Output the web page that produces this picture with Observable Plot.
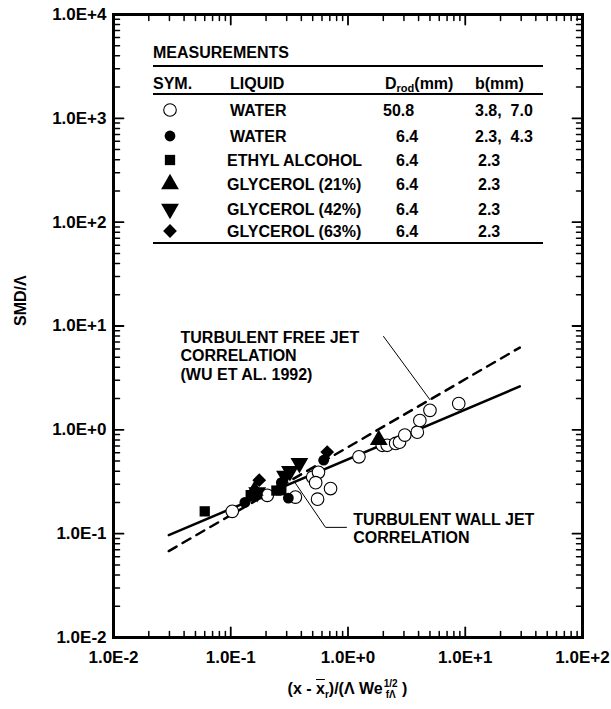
<!DOCTYPE html>
<html>
<head>
<meta charset="utf-8">
<script src="https://cdn.jsdelivr.net/npm/d3@7"></script>
<script src="https://cdn.jsdelivr.net/npm/@observablehq/plot@0.6"></script>
<style>
  html, body { margin: 0; padding: 0; background: white; }
  #figure { position: relative; width: 611px; height: 709px; font-family: "Liberation Sans", Arial, Helvetica, sans-serif; font-weight: bold; color: black; }
  #xtitle { position: absolute; width: 700px; text-align: center; top: 679px; font-size: 16px; white-space: nowrap; }
  #xtitle .bar { text-decoration: overline; }
  #xtitle sub { font-size: 10px; }
  #xtitle .ss { display: inline-flex; flex-direction: column; vertical-align: middle; font-size: 10px; line-height: 11px; margin-left: 1px; position: relative; top: -1px; }
</style>
</head>
<body>
<div id="figure"></div>
<script>
// Tick positions and labels
const xMajorTicks = [0.01, 0.1, 1, 10, 100];
const xTickLabels = ["1.0E-2", "1.0E-1", "1.0E+0", "1.0E+1", "1.0E+2"];
const yMajorTicks = [0.01, 0.1, 1, 10, 100, 1000, 10000];
const yTickLabels = ["1.0E-2", "1.0E-1", "1.0E+0", "1.0E+1", "1.0E+2", "1.0E+3", "1.0E+4"];

// Measurements: water, D_rod = 50.8 mm (open circles)
const water508X = [0.103, 0.205, 0.356, 0.50, 0.56, 0.53, 0.55, 0.71, 1.24, 1.96, 2.16, 2.55, 2.75, 3.05, 3.9, 4.1, 5.0, 8.8];
const water508Y = [0.164, 0.234, 0.225, 0.35, 0.39, 0.31, 0.215, 0.272, 0.55, 0.71, 0.71, 0.74, 0.76, 0.89, 0.95, 1.23, 1.54, 1.79];
// water, D_rod = 6.4 mm (filled circles)
const water64X = [0.132, 0.155, 0.31, 0.27, 0.62];
const water64Y = [0.20, 0.23, 0.22, 0.31, 0.51];
// ethyl alcohol (filled squares)
const ethylX = [0.060, 0.148, 0.168, 0.245, 0.27];
const ethylY = [0.164, 0.235, 0.24, 0.26, 0.262];
// glycerol 21% (up triangles)
const gly21X = [0.16, 1.83];
const gly21Y = [0.26, 0.80];
// glycerol 42% (down triangles)
const gly42X = [0.168, 0.29, 0.32, 0.385];
const gly42Y = [0.25, 0.36, 0.40, 0.477];
// glycerol 63% (diamonds)
const gly63X = [0.175, 0.665];
const gly63Y = [0.327, 0.61];

// Correlation lines (end points)
const wallJetX = [0.0296, 29.2];
const wallJetY = [0.0968, 2.62];
const freeJetX = [0.0296, 29.2];
const freeJetY = [0.068, 6.2];

// Table rows
const legendLiquids = ["WATER", "WATER", "ETHYL ALCOHOL", "GLYCEROL (21%)", "GLYCEROL (42%)", "GLYCEROL (63%)"];
const legendRod = ["50.8", "6.4", "6.4", "6.4", "6.4", "6.4"];
const legendSlot = ["3.8,  7.0", "2.3,  4.3", "2.3", "2.3", "2.3", "2.3"];

const FONT = "'Liberation Sans', Arial, Helvetica, sans-serif";

const series = [
  {xs: water508X, ys: water508Y, symbol: "circle", fill: "white", stroke: "black", r: 6.3, rotate: 0},
  {xs: water64X, ys: water64Y, symbol: "circle", fill: "black", stroke: "none", r: 5.4, rotate: 0},
  {xs: ethylX, ys: ethylY, symbol: "square", fill: "black", stroke: "none", r: 5.8, rotate: 0},
  {xs: gly21X, ys: gly21Y, symbol: "triangle", fill: "black", stroke: "none", r: 6.6, rotate: 0},
  {xs: gly42X, ys: gly42Y, symbol: "triangle", fill: "black", stroke: "none", r: 6.6, rotate: 180},
  {xs: gly63X, ys: gly63Y, symbol: "diamond2", fill: "black", stroke: "none", r: 6.2, rotate: 0}
];
const d3Symbols = {circle: d3.symbolCircle, square: d3.symbolSquare, triangle: d3.symbolTriangle, diamond2: d3.symbolDiamond2};

// minor ticks 2..9 within each decade
function minorTicks(lo, hi) {
  const out = [];
  for (let e = lo; e < hi; ++e) for (let k = 2; k <= 9; ++k) out.push(k * Math.pow(10, e));
  return out;
}
const xMinorTicks = minorTicks(-2, 2);
const yMinorTicks = minorTicks(-2, 4);

const tickShape = {draw(context, l) { context.moveTo(0, 0); context.lineTo(0, -l); }};

function ticks(values, channel, frameAnchor, rotate, length, strokeWidth) {
  return Plot.vector(values, {[channel]: d => d, frameAnchor, rotate, length, anchor: "start", shape: tickShape, stroke: "black", strokeWidth});
}

// Table of measurements drawn in the upper part of the frame
function measurementsTable() {
  const g = d3.create("svg:g")
    .attr("font-family", FONT).attr("font-weight", "bold").attr("font-size", 16)
    .attr("text-anchor", "start").attr("fill", "black");
  const left = 153, right = 543;
  g.append("text").attr("x", left).attr("y", 58).text("MEASUREMENTS");
  for (const y of [66, 94, 243]) {
    g.append("line").attr("x1", left).attr("x2", right).attr("y1", y).attr("y2", y)
      .attr("stroke", "black").attr("stroke-width", 2);
  }
  const hy = 89;
  g.append("text").attr("x", left).attr("y", hy).text("SYM.");
  g.append("text").attr("x", 230).attr("y", hy).text("LIQUID");
  const dt = g.append("text").attr("x", 385).attr("y", hy);
  dt.append("tspan").text("D");
  dt.append("tspan").attr("font-size", 11).attr("dy", 3).text("rod");
  dt.append("tspan").attr("dy", -3).text("(mm)");
  g.append("text").attr("x", 475).attr("y", hy).text("b(mm)");
  const rowY = [110, 136, 160, 184, 209, 231];
  legendLiquids.forEach((name, i) => {
    const s = series[i];
    const y = rowY[i];
    g.append("path")
      .attr("d", d3.symbol(d3Symbols[s.symbol], Math.PI * s.r * s.r)())
      .attr("transform", `translate(170,${y}) rotate(${s.rotate})`)
      .attr("fill", s.fill).attr("stroke", s.stroke).attr("stroke-width", 1.1);
    g.append("text").attr("x", i < 2 ? 230 : 227).attr("y", y + 6).text(name);
    g.append("text").attr("x", i === 0 ? 383 : 396).attr("y", y + 6).text(legendRod[i]);
    g.append("text").attr("x", i < 2 ? 475 : 478).attr("y", y + 6).style("white-space", "pre").text(legendSlot[i]);
  });
  return g.node();
}

const chart = Plot.plot({
  width: 611,
  height: 672,
  marginLeft: 113,
  marginRight: 29,
  marginTop: 14,
  marginBottom: 35,
  style: {fontFamily: FONT, fontSize: "17px", fontWeight: "bold", background: "white", color: "black", overflow: "visible"},
  x: {type: "log", domain: [0.01, 100]},
  y: {type: "log", domain: [0.01, 10000]},
  marks: [
    // inward ticks on all four sides
    ticks(xMinorTicks, "x", "bottom", 0, 6, 1.5),
    ticks(xMajorTicks, "x", "bottom", 0, 10, 1.8),
    ticks(xMinorTicks, "x", "top", 180, 6, 1.5),
    ticks(xMajorTicks, "x", "top", 180, 10, 1.8),
    ticks(yMinorTicks, "y", "left", 90, 6, 1.5),
    ticks(yMajorTicks, "y", "left", 90, 10, 1.8),
    ticks(yMinorTicks, "y", "right", -90, 6, 1.5),
    ticks(yMajorTicks, "y", "right", -90, 10, 1.8),
    Plot.axisX(xMajorTicks, {tickSize: 0, tickPadding: 13, tickFormat: d => xTickLabels[xMajorTicks.indexOf(d)], label: null, fontWeight: "bold", fontSize: 17}),
    Plot.axisY(yMajorTicks, {tickSize: 0, tickPadding: 7, tickFormat: d => yTickLabels[yMajorTicks.indexOf(d)], label: null, fontWeight: "bold", fontSize: 17}),
    Plot.text(["SMD/Λ"], {frameAnchor: "left", dx: -93, rotate: -90, fontWeight: "bold", fontSize: 16}),
    // correlation lines
    Plot.line(d3.zip(freeJetX, freeJetY), {x: d => d[0], y: d => d[1], stroke: "black", strokeWidth: 2.5, strokeDasharray: "9,7"}),
    Plot.line(d3.zip(wallJetX, wallJetY), {x: d => d[0], y: d => d[1], stroke: "black", strokeWidth: 2.5}),
    // leader lines to the correlations
    Plot.line([[2.01, 7.93], [5.0, 1.95]], {x: d => d[0], y: d => d[1], stroke: "black", strokeWidth: 1}),
    Plot.line([[0.35, 0.315], [0.643, 0.115], [0.97, 0.115]], {x: d => d[0], y: d => d[1], stroke: "black", strokeWidth: 1}),
    Plot.text(["TURBULENT FREE JET\nCORRELATION\n(WU ET AL. 1992)"], {x: 0.0373, y: 9.15, textAnchor: "start", lineAnchor: "top", lineHeight: 1.15, fontWeight: "bold", fontSize: 16}),
    Plot.text(["TURBULENT WALL JET\nCORRELATION"], {x: 1.11, y: 0.1616, textAnchor: "start", lineAnchor: "top", lineHeight: 1.15, fontWeight: "bold", fontSize: 16}),
    // measurements
    ...series.map(s => Plot.dot(d3.zip(s.xs, s.ys), {
      x: d => d[0], y: d => d[1], symbol: s.symbol, r: s.r, rotate: s.rotate,
      fill: s.fill, stroke: s.stroke, strokeWidth: 1.1
    })),
    measurementsTable,
    Plot.frame({stroke: "black", strokeWidth: 3})
  ]
});

const fig = document.getElementById("figure");
fig.appendChild(chart);
const title = document.createElement("div");
title.id = "xtitle";
title.style.left = (113 + 469 / 2 - 350) + "px";
title.innerHTML = '(x - <span class="bar">x</span><sub>r</sub>)/(&Lambda; We<span class="ss"><span>1/2</span><span>f&Lambda;</span></span> )';
fig.appendChild(title);
</script>
</body>
</html>
